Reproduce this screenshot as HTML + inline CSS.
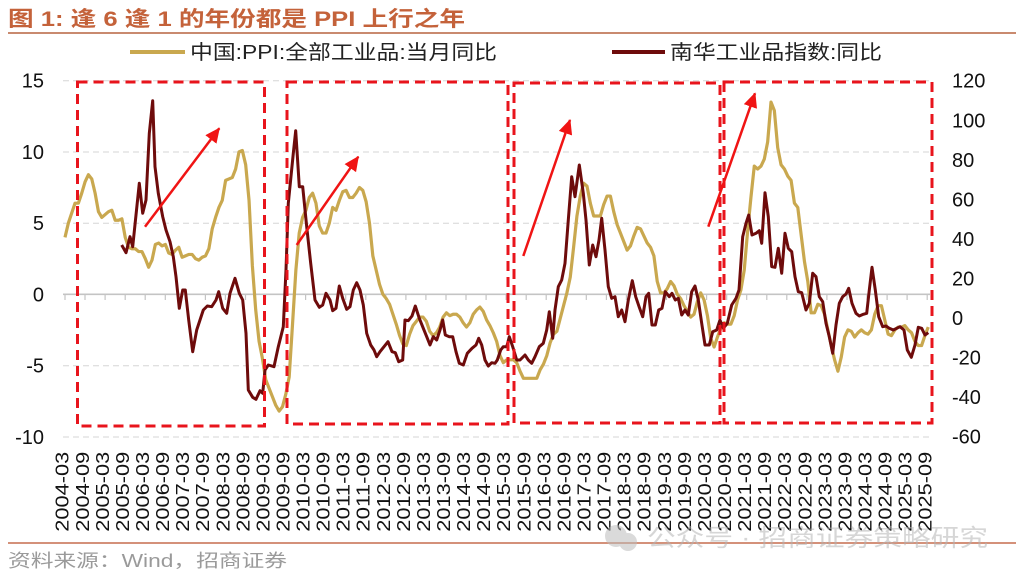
<!DOCTYPE html>
<html><head><meta charset="utf-8"><style>
html,body{margin:0;padding:0;background:#fff;}
svg{display:block;}
text{font-family:"Liberation Sans","Noto Sans CJK SC",sans-serif;}
</style></head><body>
<svg width="1024" height="577" viewBox="0 0 1024 577" xmlns="http://www.w3.org/2000/svg">
<defs>
<marker id="ah" markerUnits="userSpaceOnUse" markerWidth="16" markerHeight="14" refX="14" refY="7" orient="auto">
<path d="M0,0 L15,7 L0,14 z" fill="#f01414"/>
</marker>
</defs>
<!-- title -->
<text x="8" y="26" font-size="21" font-weight="bold" fill="#c4623a" textLength="457" lengthAdjust="spacingAndGlyphs">图 1:  逢 6 逢 1 的年份都是 PPI 上行之年</text>
<line x1="8" y1="33" x2="1016" y2="33" stroke="#c98a6f" stroke-width="2"/>
<!-- legend -->
<line x1="130" y1="52" x2="185" y2="52" stroke="#c9a84f" stroke-width="4"/>
<text x="190" y="59" font-size="20" fill="#222" textLength="307" lengthAdjust="spacingAndGlyphs">中国:PPI:全部工业品:当月同比</text>
<line x1="612" y1="52" x2="665" y2="52" stroke="#6e0b0b" stroke-width="4"/>
<text x="670" y="59" font-size="20" fill="#222" textLength="212" lengthAdjust="spacingAndGlyphs">南华工业品指数:同比</text>
<!-- grid -->
<g stroke="#d6d6d6" stroke-width="1" stroke-dasharray="6 4">
<line x1="63" y1="80.7" x2="930" y2="80.7"/>
<line x1="63" y1="152" x2="930" y2="152"/>
<line x1="63" y1="223.2" x2="930" y2="223.2"/>
<line x1="63" y1="365.7" x2="930" y2="365.7"/>
<line x1="63" y1="437" x2="930" y2="437"/>
</g>
<line x1="63" y1="294.3" x2="930" y2="294.3" stroke="#c4c4c4" stroke-width="1.6"/>
<g stroke="#c4c4c4" stroke-width="1.2" id="ticks">
<line x1="65" y1="294" x2="65" y2="300"/><line x1="85" y1="294" x2="85" y2="300"/><line x1="105.1" y1="294" x2="105.1" y2="300"/><line x1="125.2" y1="294" x2="125.2" y2="300"/><line x1="145.2" y1="294" x2="145.2" y2="300"/><line x1="165.3" y1="294" x2="165.3" y2="300"/><line x1="185.3" y1="294" x2="185.3" y2="300"/><line x1="205.4" y1="294" x2="205.4" y2="300"/><line x1="225.4" y1="294" x2="225.4" y2="300"/><line x1="245.5" y1="294" x2="245.5" y2="300"/><line x1="265.5" y1="294" x2="265.5" y2="300"/><line x1="285.6" y1="294" x2="285.6" y2="300"/><line x1="305.6" y1="294" x2="305.6" y2="300"/><line x1="325.7" y1="294" x2="325.7" y2="300"/><line x1="345.7" y1="294" x2="345.7" y2="300"/><line x1="365.8" y1="294" x2="365.8" y2="300"/><line x1="385.8" y1="294" x2="385.8" y2="300"/><line x1="405.9" y1="294" x2="405.9" y2="300"/><line x1="425.9" y1="294" x2="425.9" y2="300"/><line x1="446" y1="294" x2="446" y2="300"/><line x1="466" y1="294" x2="466" y2="300"/><line x1="486.1" y1="294" x2="486.1" y2="300"/><line x1="506.1" y1="294" x2="506.1" y2="300"/><line x1="526.2" y1="294" x2="526.2" y2="300"/><line x1="546.2" y1="294" x2="546.2" y2="300"/><line x1="566.3" y1="294" x2="566.3" y2="300"/><line x1="586.3" y1="294" x2="586.3" y2="300"/><line x1="606.4" y1="294" x2="606.4" y2="300"/><line x1="626.4" y1="294" x2="626.4" y2="300"/><line x1="646.5" y1="294" x2="646.5" y2="300"/><line x1="666.5" y1="294" x2="666.5" y2="300"/><line x1="686.6" y1="294" x2="686.6" y2="300"/><line x1="706.6" y1="294" x2="706.6" y2="300"/><line x1="726.7" y1="294" x2="726.7" y2="300"/><line x1="746.7" y1="294" x2="746.7" y2="300"/><line x1="766.8" y1="294" x2="766.8" y2="300"/><line x1="786.8" y1="294" x2="786.8" y2="300"/><line x1="806.9" y1="294" x2="806.9" y2="300"/><line x1="826.9" y1="294" x2="826.9" y2="300"/><line x1="847" y1="294" x2="847" y2="300"/><line x1="867" y1="294" x2="867" y2="300"/><line x1="887.1" y1="294" x2="887.1" y2="300"/><line x1="907.1" y1="294" x2="907.1" y2="300"/><line x1="927.2" y1="294" x2="927.2" y2="300"/>
</g>
<!-- left axis labels -->
<g font-size="20" fill="#111" text-anchor="end">
<text x="44" y="87.7">15</text>
<text x="44" y="159">10</text>
<text x="44" y="230.2">5</text>
<text x="44" y="301.3">0</text>
<text x="44" y="372.7">-5</text>
<text x="44" y="444">-10</text>
</g>
<!-- right axis labels -->
<g font-size="20" fill="#111">
<text x="952" y="87.7">120</text>
<text x="952" y="127.3">100</text>
<text x="952" y="166.8">80</text>
<text x="952" y="206.4">60</text>
<text x="952" y="245.9">40</text>
<text x="952" y="285.5">20</text>
<text x="952" y="325.1">0</text>
<text x="952" y="364.6">-20</text>
<text x="952" y="404.2">-40</text>
<text x="952" y="443.7">-60</text>
</g>
<!-- x labels -->
<g font-size="18" fill="#111">
<text transform="translate(68.7,531.7) rotate(-90)" textLength="80" lengthAdjust="spacingAndGlyphs">2004-03</text>
<text transform="translate(88.8,531.7) rotate(-90)" textLength="80" lengthAdjust="spacingAndGlyphs">2004-09</text>
<text transform="translate(108.8,531.7) rotate(-90)" textLength="80" lengthAdjust="spacingAndGlyphs">2005-03</text>
<text transform="translate(128.9,531.7) rotate(-90)" textLength="80" lengthAdjust="spacingAndGlyphs">2005-09</text>
<text transform="translate(149,531.7) rotate(-90)" textLength="80" lengthAdjust="spacingAndGlyphs">2006-03</text>
<text transform="translate(169,531.7) rotate(-90)" textLength="80" lengthAdjust="spacingAndGlyphs">2006-09</text>
<text transform="translate(189.1,531.7) rotate(-90)" textLength="80" lengthAdjust="spacingAndGlyphs">2007-03</text>
<text transform="translate(209.2,531.7) rotate(-90)" textLength="80" lengthAdjust="spacingAndGlyphs">2007-09</text>
<text transform="translate(229.3,531.7) rotate(-90)" textLength="80" lengthAdjust="spacingAndGlyphs">2008-03</text>
<text transform="translate(249.3,531.7) rotate(-90)" textLength="80" lengthAdjust="spacingAndGlyphs">2008-09</text>
<text transform="translate(269.4,531.7) rotate(-90)" textLength="80" lengthAdjust="spacingAndGlyphs">2009-03</text>
<text transform="translate(289.5,531.7) rotate(-90)" textLength="80" lengthAdjust="spacingAndGlyphs">2009-09</text>
<text transform="translate(309.5,531.7) rotate(-90)" textLength="80" lengthAdjust="spacingAndGlyphs">2010-03</text>
<text transform="translate(329.6,531.7) rotate(-90)" textLength="80" lengthAdjust="spacingAndGlyphs">2010-09</text>
<text transform="translate(349.7,531.7) rotate(-90)" textLength="80" lengthAdjust="spacingAndGlyphs">2011-03</text>
<text transform="translate(369.7,531.7) rotate(-90)" textLength="80" lengthAdjust="spacingAndGlyphs">2011-09</text>
<text transform="translate(389.8,531.7) rotate(-90)" textLength="80" lengthAdjust="spacingAndGlyphs">2012-03</text>
<text transform="translate(409.9,531.7) rotate(-90)" textLength="80" lengthAdjust="spacingAndGlyphs">2012-09</text>
<text transform="translate(429.9,531.7) rotate(-90)" textLength="80" lengthAdjust="spacingAndGlyphs">2013-03</text>
<text transform="translate(450,531.7) rotate(-90)" textLength="80" lengthAdjust="spacingAndGlyphs">2013-09</text>
<text transform="translate(470.1,531.7) rotate(-90)" textLength="80" lengthAdjust="spacingAndGlyphs">2014-03</text>
<text transform="translate(490.2,531.7) rotate(-90)" textLength="80" lengthAdjust="spacingAndGlyphs">2014-09</text>
<text transform="translate(510.2,531.7) rotate(-90)" textLength="80" lengthAdjust="spacingAndGlyphs">2015-03</text>
<text transform="translate(530.3,531.7) rotate(-90)" textLength="80" lengthAdjust="spacingAndGlyphs">2015-09</text>
<text transform="translate(550.4,531.7) rotate(-90)" textLength="80" lengthAdjust="spacingAndGlyphs">2016-03</text>
<text transform="translate(570.4,531.7) rotate(-90)" textLength="80" lengthAdjust="spacingAndGlyphs">2016-09</text>
<text transform="translate(590.5,531.7) rotate(-90)" textLength="80" lengthAdjust="spacingAndGlyphs">2017-03</text>
<text transform="translate(610.6,531.7) rotate(-90)" textLength="80" lengthAdjust="spacingAndGlyphs">2017-09</text>
<text transform="translate(630.6,531.7) rotate(-90)" textLength="80" lengthAdjust="spacingAndGlyphs">2018-03</text>
<text transform="translate(650.7,531.7) rotate(-90)" textLength="80" lengthAdjust="spacingAndGlyphs">2018-09</text>
<text transform="translate(670.8,531.7) rotate(-90)" textLength="80" lengthAdjust="spacingAndGlyphs">2019-03</text>
<text transform="translate(690.8,531.7) rotate(-90)" textLength="80" lengthAdjust="spacingAndGlyphs">2019-09</text>
<text transform="translate(710.9,531.7) rotate(-90)" textLength="80" lengthAdjust="spacingAndGlyphs">2020-03</text>
<text transform="translate(731,531.7) rotate(-90)" textLength="80" lengthAdjust="spacingAndGlyphs">2020-09</text>
<text transform="translate(751.1,531.7) rotate(-90)" textLength="80" lengthAdjust="spacingAndGlyphs">2021-03</text>
<text transform="translate(771.1,531.7) rotate(-90)" textLength="80" lengthAdjust="spacingAndGlyphs">2021-09</text>
<text transform="translate(791.2,531.7) rotate(-90)" textLength="80" lengthAdjust="spacingAndGlyphs">2022-03</text>
<text transform="translate(811.3,531.7) rotate(-90)" textLength="80" lengthAdjust="spacingAndGlyphs">2022-09</text>
<text transform="translate(831.3,531.7) rotate(-90)" textLength="80" lengthAdjust="spacingAndGlyphs">2023-03</text>
<text transform="translate(851.4,531.7) rotate(-90)" textLength="80" lengthAdjust="spacingAndGlyphs">2023-09</text>
<text transform="translate(871.5,531.7) rotate(-90)" textLength="80" lengthAdjust="spacingAndGlyphs">2024-03</text>
<text transform="translate(891.5,531.7) rotate(-90)" textLength="80" lengthAdjust="spacingAndGlyphs">2024-09</text>
<text transform="translate(911.6,531.7) rotate(-90)" textLength="80" lengthAdjust="spacingAndGlyphs">2025-03</text>
<text transform="translate(931.7,531.7) rotate(-90)" textLength="80" lengthAdjust="spacingAndGlyphs">2025-09</text>
</g>
<!-- PPI series -->
<g transform="translate(65,294.3) scale(3.346,-14.24)">
<polyline fill="none" stroke="#c9a84f" stroke-width="3.2" stroke-linejoin="round" vector-effect="non-scaling-stroke" points="0,4.0 1,5.0 2,5.7 3,6.4 4,6.4 5,7.1 6,7.9 7,8.4 8,8.1 9,7.1 10,5.8 11,5.4 12,5.6 13,5.8 14,5.9 15,5.2 16,5.2 17,5.3 18,4.0 19,3.3 20,3.2 21,3.2 22,3.0 23,3.0 24,2.5 25,1.9 26,2.4 27,3.5 28,3.6 29,3.4 30,3.5 31,2.9 32,2.8 33,3.1 34,3.3 35,2.6 36,2.7 37,2.8 38,2.8 39,2.5 40,2.4 41,2.6 42,2.7 43,3.2 44,4.6 45,5.4 46,6.1 47,6.6 48,8.0 49,8.1 50,8.2 51,8.8 52,10.0 53,10.1 54,9.1 55,6.6 56,2.0 57,-1.1 58,-3.3 59,-4.5 60,-6.0 61,-6.6 62,-7.2 63,-7.8 64,-8.2 65,-7.9 66,-7.0 67,-5.8 68,-2.1 69,1.7 70,4.3 71,5.4 72,5.9 73,6.8 74,7.1 75,6.4 76,4.8 77,4.3 78,4.3 79,5.0 80,6.1 81,5.9 82,6.6 83,7.2 84,7.3 85,6.8 86,6.8 87,7.1 88,7.5 89,7.3 90,6.5 91,5.0 92,2.7 93,1.7 94,0.7 95,0.0 96,-0.3 97,-0.7 98,-1.4 99,-2.1 100,-2.9 101,-3.5 102,-3.6 103,-2.8 104,-2.2 105,-1.9 106,-1.6 107,-1.6 108,-1.9 109,-2.6 110,-2.9 111,-2.7 112,-2.3 113,-1.6 114,-1.3 115,-1.5 116,-1.4 117,-1.4 118,-1.6 119,-2.0 120,-2.3 121,-2.0 122,-1.4 123,-1.1 124,-0.9 125,-1.2 126,-1.8 127,-2.2 128,-2.7 129,-3.3 130,-4.3 131,-4.8 132,-4.6 133,-4.6 134,-4.6 135,-4.8 136,-5.4 137,-5.9 138,-5.9 139,-5.9 140,-5.9 141,-5.9 142,-5.3 143,-4.9 144,-4.3 145,-3.4 146,-2.8 147,-2.6 148,-1.7 149,-0.8 150,0.1 151,1.2 152,3.3 153,5.5 154,6.9 155,7.8 156,7.6 157,6.4 158,5.5 159,5.5 160,5.5 161,6.3 162,6.9 163,6.9 164,5.8 165,4.9 166,4.3 167,3.7 168,3.1 169,3.4 170,4.1 171,4.7 172,4.6 173,4.1 174,3.6 175,3.3 176,2.7 177,0.9 178,0.1 179,0.1 180,0.4 181,0.9 182,0.6 183,0.0 184,-0.3 185,-0.8 186,-1.2 187,-1.6 188,-1.4 189,-0.5 190,0.1 191,-0.4 192,-1.5 193,-3.1 194,-3.7 195,-3.0 196,-2.4 197,-2.0 198,-2.1 199,-2.1 200,-1.5 201,-0.4 202,0.3 203,1.7 204,4.4 205,6.8 206,9.0 207,8.8 208,9.0 209,9.5 210,10.7 211,13.5 212,12.9 213,10.3 214,9.1 215,8.8 216,8.3 217,8.0 218,6.4 219,6.1 220,4.2 221,2.3 222,0.9 223,-1.3 224,-1.3 225,-0.7 226,-0.8 227,-1.4 228,-2.5 229,-3.6 230,-4.6 231,-5.4 232,-4.4 233,-3.0 234,-2.5 235,-2.6 236,-3.0 237,-2.7 238,-2.5 239,-2.7 240,-2.8 241,-2.5 242,-1.4 243,-0.8 244,-0.8 245,-1.8 246,-2.8 247,-2.9 248,-2.5 249,-2.3 250,-2.3 251,-2.2 252,-2.5 253,-2.7 254,-3.3 255,-3.6 256,-3.6 257,-2.9 258,-2.3"/>
</g>
<!-- Nanhua series -->
<polyline fill="none" stroke="#6e0b0b" stroke-width="3" stroke-linejoin="round" points="121.7,245 126,252.7 130,236.7 132.7,246.7 139.3,183.3 142.7,213.3 146,200 149.3,133.3 152.7,100.7 155,166.7 158.3,193.3 162.7,216.7 166,230 170,241.7 173.3,256.7 176,276.7 179.3,308.3 182.7,290 185.3,290 188.7,320 192.7,351.7 196.7,330 200,320 203.3,310 207.3,306 211.7,306.7 216,300 218.7,291.7 222.7,308.3 226.7,313.3 230,293.3 235,278.3 239.3,293.3 242.7,300 246,333.3 248.3,390 252.7,397.3 256,399.3 260,390.7 262.7,393.3 265,370 268.3,365 274,366.7 278.3,346.7 283.3,326.7 286,270 288.3,203.3 293.3,153.3 295.7,130.7 299.3,186.7 302.7,186.7 306.7,226.7 310.7,263.3 315,300 319.3,307.3 322.7,305 326,293.3 330,300 332.7,310.7 336,308.3 339.3,286 342.7,298.3 346.7,309.3 350,306.7 353.3,290 356.7,282.7 360,290 363.3,305 366.7,333.3 370.7,345 374,350 376.7,356.7 380,351.7 384,346.7 388,341.7 392,351.7 395.3,352.7 398.7,361.7 402.7,360 405,320 408.3,320.7 412,316 415.3,306 419.3,318.3 423.3,328.3 426.7,336.7 430,345 433.3,336.7 436.7,340 440,330 442.7,320 445.3,335 449.3,336.7 452.7,336.7 456,351.7 459.3,363.3 463.3,365 467.3,353.3 472,348.3 476,345 478.7,338.3 481.7,345 485,360 488.3,366 491.7,362.7 495,363.3 497.3,360 500.7,350 503.3,346.7 506.7,346.7 509.3,336.7 512.7,346.7 516.7,360 520,360 525,355 528.3,360 531.7,363.3 535,356.7 539.3,346.7 543.3,343.3 546.7,330 549.3,311.7 552.7,338.3 555,310 558.3,286.7 561.7,280 565,263.3 568.3,220 571.7,176.7 575,196.7 579.3,165 583.3,193.3 586,220 589.3,265 592.7,245 596,256.7 599,240 601.7,218.3 605,250 608.3,286.7 611.7,298.3 615,296.7 618.3,316.7 621.7,310 625,321.7 628.3,300 632.3,280.7 635.7,296.7 639.3,307.3 642.7,316.7 646,296.7 648.7,293.3 652,325 655.3,325 658.7,310 662,308.3 665.3,291.7 669.3,296.7 672,293.3 675.3,300 678.3,298.3 681.7,315 685,310 688.3,315 691.7,291.7 695,286 698.3,300 701.7,323.3 705,345 709.3,345 712.7,331.7 716.7,330 720,320 723.3,328.3 727.3,323.3 731.7,305 736,298.3 739,290 742.7,236.7 746,223.3 748.7,215 752,235 756,233.3 759.3,230.7 761.7,243.3 765,192.7 768.3,216.7 771.7,266.7 775,267.3 778.3,248.3 781.7,273.3 785,233.3 788.3,248.3 791.7,251.7 795,276.7 798.3,291.7 801.7,292.7 806,310 809.3,303.3 812.7,273.3 816,276.7 819.3,296.7 822.7,301.7 826,323.3 829.3,336.7 832.7,353.3 836,325 839.3,303.3 842.7,296.7 846,294 848.7,288.3 852,303.3 856,313.3 859.3,316 863.3,314.3 866.7,313.3 869.3,290 872,267.3 875.3,290 878.7,316.7 882.7,326.7 886,326 889.3,328.3 893.3,330 896.7,328.3 900,326.7 904,330 907.3,350 911.3,357.3 915,345 918.3,327.3 921.7,328.3 925,335 928.3,332.7"/>
<!-- red dashed boxes -->
<g fill="none" stroke="#e8141c" stroke-width="3" stroke-dasharray="10 6">
<rect x="77.5" y="82" width="187" height="344"/>
<rect x="287" y="82" width="221" height="342"/>
<rect x="514" y="83" width="206" height="340"/>
<rect x="724" y="82" width="208" height="341"/>
</g>
<!-- arrows -->
<g stroke="#f01414" stroke-width="2.5" marker-end="url(#ah)">
<line x1="145" y1="226.7" x2="219.3" y2="128.3"/>
<line x1="296.7" y1="245" x2="358.3" y2="156.7"/>
<line x1="523.3" y1="256" x2="570" y2="120"/>
<line x1="708.3" y1="226.7" x2="755" y2="93.3"/>
</g>
<!-- footer -->
<line x1="8" y1="543" x2="1016" y2="543" stroke="#d4917a" stroke-width="2"/>
<text x="8" y="567" font-size="18" fill="#9a9a9a" textLength="279" lengthAdjust="spacingAndGlyphs">资料来源：Wind，招商证券</text>
<!-- watermark -->
<g opacity="0.55">
<circle cx="616" cy="536" r="11" fill="#bdbdbd"/>
<circle cx="628" cy="542" r="9" fill="#bdbdbd"/>
<text x="647" y="546" font-size="24" fill="#b5b5b5" textLength="341" lengthAdjust="spacingAndGlyphs">公众号 · 招商证券策略研究</text>
</g>
</svg>
</body></html>
